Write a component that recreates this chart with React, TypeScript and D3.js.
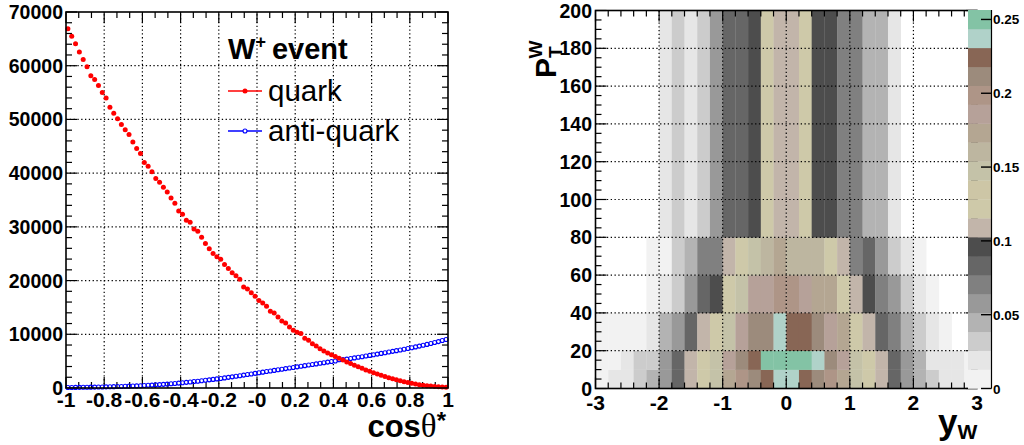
import React from "react";
import * as d3 from "d3";

// ---------- Left panel data (cos theta*, 100 bins) ----------
const cosEdges = [-1, 1];
const quark = [
  66900, 65470, 64100, 62550, 61170, 59810, 58130, 57440, 56330, 55020,
  53970, 52290, 51170, 50110, 49050, 48060, 47180, 45820, 44570, 43640,
  41960, 41290, 40280, 38980, 38300, 37370, 36490, 35370, 34380, 32950,
  32330, 31210, 30840, 29590, 29180, 28070, 26920, 25910, 25050, 24420,
  23990, 23000, 22260, 21440, 20880, 20260, 18820, 18450, 17710, 17090,
  16290, 15840, 15220, 14290, 13970, 13230, 12480, 12110, 11360, 10750,
  10370, 10130, 9250, 8880, 8260, 7820, 7330, 6880, 6510, 6210,
  5880, 5520, 5210, 4850, 4560, 4230, 3940, 3660, 3370, 3120,
  2860, 2610, 2370, 2130, 1920, 1710, 1520, 1340, 1170, 1010,
  870, 740, 620, 520, 430, 350, 290, 230, 190, 160,
];
const antiquark = [
  90, 100, 110, 120, 130, 145, 155, 170, 185, 200,
  215, 235, 250, 270, 290, 315, 340, 365, 395, 430,
  465, 500, 540, 585, 630, 680, 730, 790, 850, 910,
  980, 1050, 1120, 1200, 1270, 1350, 1430, 1520, 1600, 1690,
  1780, 1880, 1980, 2080, 2190, 2290, 2400, 2510, 2620, 2730,
  2840, 2950, 3060, 3170, 3280, 3390, 3500, 3610, 3720, 3830,
  3940, 4050, 4160, 4270, 4380, 4490, 4600, 4710, 4820, 4930,
  5040, 5250, 5300, 5380, 5490, 5600, 5720, 5830, 5950, 6070,
  6190, 6310, 6440, 6560, 6690, 6820, 6950, 7080, 7220, 7360,
  7500, 7650, 7800, 7960, 8120, 8290, 8460, 8640, 8830, 9030,
];
const leftXTicks = [-1, -0.8, -0.6, -0.4, -0.2, 0, 0.2, 0.4, 0.6, 0.8, 1];
const leftXLabels = ["-1", "-0.8", "-0.6", "-0.4", "-0.2", "-0", "0.2", "0.4", "0.6", "0.8", "1"];
const leftYTicks = [0, 10000, 20000, 30000, 40000, 50000, 60000, 70000];

// ---------- Right panel data (y_W vs PT^W) ----------
const ywRange = [-3, 3];
const ywBinWidth = 0.2;
const ptEdges = [0, 10, 20, 40, 60, 80, 200];
// z per row (bottom row first), 30 y_W bins each; 0 = empty
const zRow0 = [0.006, 0.019, 0.019, 0.032, 0.045, 0.058, 0.083, 0.109, 0.122, 0.147, 0.173, 0.199, 0.212, 0.224, 0.237, 0.237, 0.224, 0.212, 0.199, 0.173, 0.147, 0.122, 0.109, 0.083, 0.058, 0.045, 0.032, 0.019, 0.019, 0.006];
const zRow1 = [0.006, 0.006, 0.019, 0.032, 0.032, 0.058, 0.083, 0.109, 0.122, 0.147, 0.186, 0.212, 0.224, 0.25, 0.25, 0.25, 0.25, 0.237, 0.212, 0.186, 0.147, 0.122, 0.109, 0.083, 0.058, 0.045, 0.019, 0.019, 0.019, 0.006];
const zRow2 = [0.006, 0.006, 0.006, 0.006, 0.019, 0.045, 0.058, 0.083, 0.109, 0.122, 0.147, 0.186, 0.212, 0.212, 0.237, 0.224, 0.224, 0.212, 0.186, 0.173, 0.122, 0.109, 0.083, 0.071, 0.045, 0.032, 0.019, 0.006, 0, 0];
const zRow3 = [0, 0, 0, 0, 0.006, 0.019, 0.032, 0.058, 0.083, 0.096, 0.122, 0.147, 0.186, 0.186, 0.199, 0.199, 0.186, 0.173, 0.173, 0.122, 0.109, 0.096, 0.071, 0.058, 0.032, 0.019, 0.006, 0, 0, 0];
const zRow4 = [0, 0, 0, 0, 0.006, 0.006, 0.032, 0.045, 0.071, 0.071, 0.109, 0.122, 0.147, 0.16, 0.173, 0.16, 0.16, 0.16, 0.122, 0.109, 0.071, 0.083, 0.058, 0.032, 0.019, 0.006, 0, 0, 0, 0];
const zRow5 = [0, 0, 0, 0, 0, 0.019, 0.032, 0.019, 0.032, 0.058, 0.083, 0.083, 0.096, 0.122, 0.109, 0.109, 0.122, 0.096, 0.096, 0.071, 0.071, 0.045, 0.045, 0.019, 0, 0, 0, 0, 0, 0];
const zRows = [zRow0, zRow1, zRow2, zRow3, zRow4, zRow5];
const zMax = 0.2564;
const paletteColors = [
  "#f2f2f2", "#e6e6e6", "#cccccc", "#b3b3b3", "#999999", "#808080", "#666666", "#4d4d4d",
  "#c2b5aa", "#cec9a9", "#cdc6a6", "#c4c2a8", "#bdb6a0", "#b4a692", "#b6a199", "#ae9587",
  "#9c8b7c", "#886655", "#b0d2c9", "#83c3a5",
];
const rightXTicks = [-3, -2, -1, 0, 1, 2, 3];
const rightYTicks = [0, 20, 40, 60, 80, 100, 120, 140, 160, 180, 200];
const zTicks = [0, 0.05, 0.1, 0.15, 0.2, 0.25];

const FONT = "'Liberation Sans', Arial, Helvetica, sans-serif";

export default function App() {
  // scales
  const xL = d3.scaleLinear().domain(cosEdges).range([66, 448]);
  const yL = d3.scaleLinear().domain([0, 70000]).range([388, 12]);
  const xR = d3.scaleLinear().domain(ywRange).range([595.5, 977]);
  const yR = d3.scaleLinear().domain([0, 200]).range([388.5, 10.5]);
  const zS = d3.scaleLinear().domain([0, zMax]).range([388.5, 10]);
  const nLev = paletteColors.length;
  const levelOf = (z: number) => Math.min(nLev - 1, Math.floor((z / zMax) * nLev));

  const nBins = quark.length;
  const bw = (cosEdges[1] - cosEdges[0]) / nBins;
  const centers = d3.range(nBins).map((i) => cosEdges[0] + (i + 0.5) * bw);

  const lxMinor = d3.range(0, 31).map((i) => -1 + (i * 0.2) / 3);
  const lyMinor = d3.range(0, 36).map((i) => i * 2000);
  const rxMinor = d3.range(0, 31).map((i) => -3 + i * 0.2);
  const ryMinor = d3.range(0, 41).map((i) => i * 5);

  const nX = zRow0.length;
  const ywBins = d3.range(nX).map((i) => ywRange[0] + i * ywBinWidth);

  const lx0 = xL.range()[0], lx1 = xL.range()[1], ly0 = yL.range()[0], ly1 = yL.range()[1];
  const rx0 = xR.range()[0], rx1 = xR.range()[1], ry0 = yR.range()[0], ry1 = yR.range()[1];

  return (
    <svg width={1024} height={445} style={{ position: "absolute", left: 0, top: 0, background: "#fff" }} fontFamily={FONT}>
      <rect x={0} y={0} width={1024} height={445} fill="#fff" />
      {/* ================= LEFT PANEL ================= */}
      <g>
        {leftXTicks.slice(1, -1).map((t) => (
          <line key={"lgx" + t} x1={xL(t)} x2={xL(t)} y1={ly0} y2={ly1} stroke="#000" strokeWidth={1.2} strokeDasharray="1.3,2.5" />
        ))}
        {leftYTicks.slice(1, -1).map((t) => (
          <line key={"lgy" + t} x1={lx0} x2={lx1} y1={yL(t)} y2={yL(t)} stroke="#000" strokeWidth={1.2} strokeDasharray="1.3,2.5" />
        ))}
        {lxMinor.map((t, i) => {
          const len = i % 3 === 0 ? 11 : 6;
          return (
            <g key={"lxt" + i}>
              <line x1={xL(t)} x2={xL(t)} y1={ly0} y2={ly0 - len} stroke="#000" strokeWidth={1.2} />
              <line x1={xL(t)} x2={xL(t)} y1={ly1} y2={ly1 + len} stroke="#000" strokeWidth={1.2} />
            </g>
          );
        })}
        {lyMinor.map((t, i) => {
          const len = i % 5 === 0 ? 11 : 6;
          return (
            <g key={"lyt" + i}>
              <line x1={lx0} x2={lx0 + len} y1={yL(t)} y2={yL(t)} stroke="#000" strokeWidth={1.2} />
              <line x1={lx1} x2={lx1 - len} y1={yL(t)} y2={yL(t)} stroke="#000" strokeWidth={1.2} />
            </g>
          );
        })}
        {centers.map((c, i) => (
          <circle key={"aq" + i} cx={xL(c)} cy={yL(antiquark[i])} r={2} fill="none" stroke="#0000ff" strokeWidth={1.1} />
        ))}
        {centers.map((c, i) => (
          <circle key={"q" + i} cx={xL(c)} cy={yL(quark[i])} r={2.5} fill="#ff0000" />
        ))}
        <rect x={lx0} y={ly1} width={lx1 - lx0} height={ly0 - ly1} fill="none" stroke="#000" strokeWidth={1.6} />
        {leftXTicks.map((t, i) => (
          <text key={"lxl" + t} x={xL(t)} y={407} textAnchor="middle" fontSize={21} fontWeight="bold">
            {leftXLabels[i]}
          </text>
        ))}
        {leftYTicks.map((t) => (
          <text key={"lyl" + t} x={63} y={yL(t) + 7} textAnchor="end" fontSize={19.5} fontWeight="bold">
            {t}
          </text>
        ))}
        <text x={446} y={437} textAnchor="end" fontSize={31} fontWeight="bold">
          cos<tspan fontFamily="'Liberation Serif', serif" fontWeight="normal" fontSize={33}>θ</tspan>
          <tspan dy={-8} fontSize={24}>*</tspan>
        </text>
        <text x={228} y={59} fontSize={29} fontWeight="bold">
          W<tspan dy={-11} fontSize={18}>+</tspan>
          <tspan dy={11} dx={6}>event</tspan>
        </text>
        <line x1={228} x2={262} y1={91} y2={91} stroke="#ff0000" strokeWidth={1.3} />
        <circle cx={245} cy={91} r={2.5} fill="#ff0000" />
        <text x={268} y={101} fontSize={29.5}>quark</text>
        <line x1={228} x2={262} y1={131} y2={131} stroke="#0000ff" strokeWidth={1.3} />
        <circle cx={245} cy={131} r={2} fill="#fff" stroke="#0000ff" strokeWidth={1.1} />
        <text x={268} y={141} fontSize={29.5}>anti-quark</text>
      </g>

      {/* ================= RIGHT PANEL ================= */}
      <g>
        {zRows.map((row, r) =>
          row.map((z, c) =>
            z > 0 ? (
              <rect
                key={"cell" + r + "_" + c}
                x={xR(ywBins[c])}
                y={yR(ptEdges[r + 1])}
                width={xR(ywBins[c] + ywBinWidth) - xR(ywBins[c]) + 0.3}
                height={yR(ptEdges[r]) - yR(ptEdges[r + 1]) + 0.3}
                fill={paletteColors[levelOf(z)]}
              />
            ) : null
          )
        )}
        {rightXTicks.slice(1, -1).map((t) => (
          <line key={"rgx" + t} x1={xR(t)} x2={xR(t)} y1={ry0} y2={ry1} stroke="#000" strokeWidth={1.2} strokeDasharray="1.3,2.5" />
        ))}
        {rightYTicks.slice(1, -1).map((t) => (
          <line key={"rgy" + t} x1={rx0} x2={rx1} y1={yR(t)} y2={yR(t)} stroke="#000" strokeWidth={1.2} strokeDasharray="1.3,2.5" />
        ))}
        {rxMinor.map((t, i) => {
          const len = i % 5 === 0 ? 11 : 6;
          return (
            <g key={"rxt" + i}>
              <line x1={xR(t)} x2={xR(t)} y1={ry0} y2={ry0 - len} stroke="#000" strokeWidth={1.2} />
              <line x1={xR(t)} x2={xR(t)} y1={ry1} y2={ry1 + len} stroke="#000" strokeWidth={1.2} />
            </g>
          );
        })}
        {ryMinor.map((t, i) => {
          const len = i % 4 === 0 ? 11 : 6;
          return (
            <g key={"ryt" + i}>
              <line x1={rx0} x2={rx0 + len} y1={yR(t)} y2={yR(t)} stroke="#000" strokeWidth={1.2} />
              <line x1={rx1} x2={rx1 - len} y1={yR(t)} y2={yR(t)} stroke="#000" strokeWidth={1.2} />
            </g>
          );
        })}
        <rect x={rx0} y={ry1} width={rx1 - rx0} height={ry0 - ry1} fill="none" stroke="#000" strokeWidth={1.6} />
        {paletteColors.map((col, k) => (
          <rect
            key={"pal" + k}
            x={968}
            y={zS(((k + 1) * zMax) / nLev)}
            width={23.5}
            height={zS((k * zMax) / nLev) - zS(((k + 1) * zMax) / nLev) + 0.3}
            fill={col}
          />
        ))}
        <line x1={991.5} x2={991.5} y1={zS(0)} y2={zS(zMax)} stroke="#000" strokeWidth={1.2} />
        {zTicks.map((t) => (
          <g key={"zt" + t}>
            <line x1={991.5} x2={981} y1={zS(t)} y2={zS(t)} stroke="#000" strokeWidth={1.4} />
            <text x={993} y={zS(t) + 5} fontSize={13.5} fontWeight="bold">
              {String(t)}
            </text>
          </g>
        ))}
        {rightXTicks.map((t) => (
          <text key={"rxl" + t} x={xR(t)} y={410} textAnchor="middle" fontSize={21} fontWeight="bold">
            {t}
          </text>
        ))}
        {rightYTicks.map((t) => (
          <text key={"ryl" + t} x={592} y={yR(t) + 7} textAnchor="end" fontSize={19.5} fontWeight="bold">
            {t}
          </text>
        ))}
        <text x={938} y={434} fontSize={35} fontWeight="bold">
          y<tspan dy={5} fontSize={21}>W</tspan>
        </text>
        <text transform="translate(556,78) rotate(-90)" fontSize={30} fontWeight="bold">
          P<tspan dy={6} fontSize={19}>T</tspan>
          <tspan dx={-12} dy={-20} fontSize={19}>W</tspan>
        </text>
      </g>
    </svg>
  );
}
